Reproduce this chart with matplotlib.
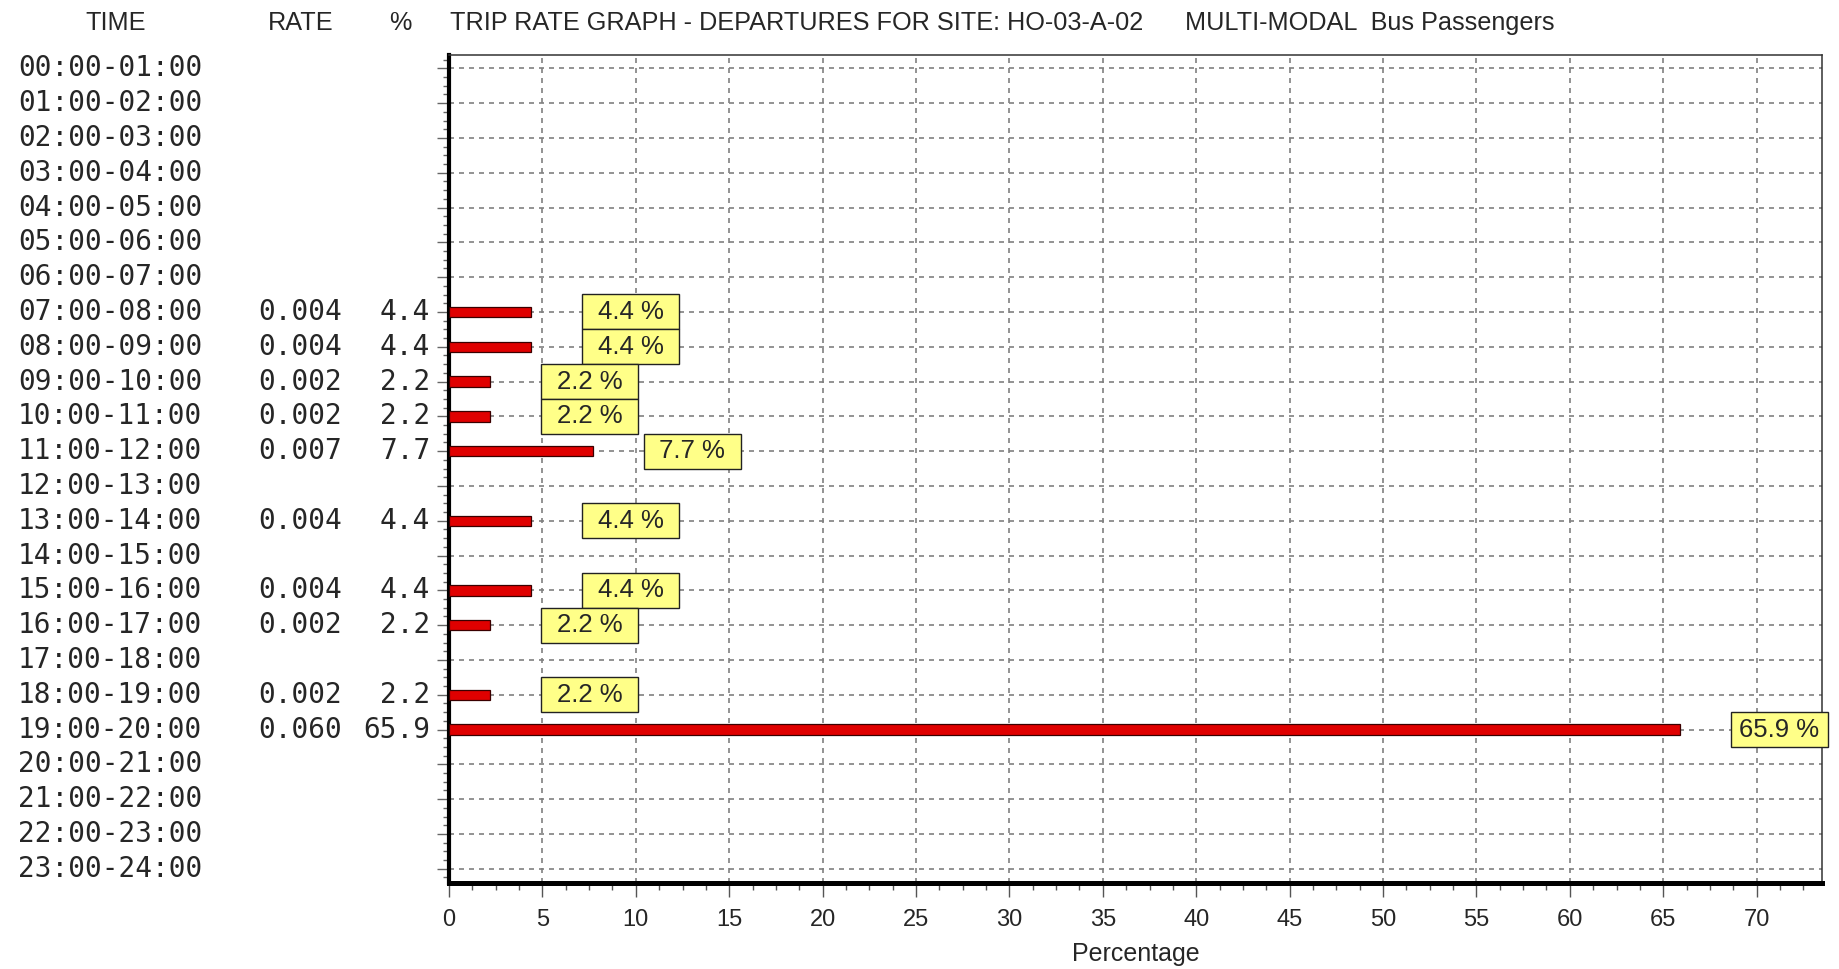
import numpy as np
import matplotlib
matplotlib.use("Agg")
import matplotlib.pyplot as plt
from matplotlib import transforms
from matplotlib.patches import Rectangle
from matplotlib.ticker import MultipleLocator

# Hourly departure bands
time_bands = [f"{h:02d}:00-{h + 1:02d}:00" for h in range(24)]

# Trip rate and percentage per band (NaN where no trips were recorded)
rate = [np.nan] * 7 + [0.004, 0.004, 0.002, 0.002, 0.007, np.nan, 0.004, np.nan,
                       0.004, 0.002, np.nan, 0.002, 0.060] + [np.nan] * 4
percent = [np.nan] * 7 + [4.4, 4.4, 2.2, 2.2, 7.7, np.nan, 4.4, np.nan,
                          4.4, 2.2, np.nan, 2.2, 65.9] + [np.nan] * 4

title_left = "TRIP RATE GRAPH - DEPARTURES FOR SITE: HO-03-A-02"
title_right = "MULTI-MODAL  Bus Passengers"
x_ticks = list(range(0, 75, 5))

W, H = 1839, 969
fig = plt.figure(figsize=(W / 100, H / 100), dpi=100)
fig.patch.set_facecolor("white")

ax_left, ax_right, ax_top, ax_bottom = 449, 1822, 55, 883
ax = fig.add_axes([ax_left / W, (H - ax_bottom) / H,
                   (ax_right - ax_left) / W, (ax_bottom - ax_top) / H])

narrow = ["Liberation Sans Narrow", "Liberation Sans", "DejaVu Sans"]
mono = ["DejaVu Sans Mono"]
txt_col = "#262626"

y = np.arange(len(time_bands))
vals = np.array(percent, dtype=float)
mask = ~np.isnan(vals)

ax.barh(y[mask], vals[mask], height=0.3, color="#e00000",
        edgecolor="#3a0000", linewidth=0.9, zorder=3)

ax.set_xlim(0, 73.5)
ax.set_ylim(23.41, -0.385)

ax.set_xticks(x_ticks)
ax.xaxis.set_minor_locator(MultipleLocator(1.25))
ax.set_yticks(y)
ax.set_yticklabels([])
ax.yaxis.set_minor_locator(MultipleLocator(0.25))

ax.tick_params(axis="x", which="major", length=10, width=1.0, color="#555555",
               pad=9, labelsize=17, labelcolor=txt_col)
ax.tick_params(axis="x", which="minor", length=5, width=1.0, color="#555555")
ax.tick_params(axis="y", which="major", length=9, width=1.0, color="#666666")
ax.tick_params(axis="y", which="minor", length=4, width=1.0, color="#666666")
for lab in ax.get_xticklabels():
    lab.set_family(narrow)

ax.grid(True, which="major", color="#808080", linewidth=1.2,
        linestyle=(0, (3.0, 3.0)))
ax.set_axisbelow(True)

ax.spines["left"].set_linewidth(3.0)
ax.spines["bottom"].set_linewidth(3.6)
ax.spines["left"].set_color("black")
ax.spines["bottom"].set_color("black")
ax.spines["top"].set_linewidth(1.1)
ax.spines["right"].set_linewidth(1.1)
ax.spines["top"].set_color("#333333")
ax.spines["right"].set_color("#333333")

ax.set_xlabel("Percentage", family=narrow, fontsize=18, color=txt_col, labelpad=8)

# Value boxes to the right of each bar (fixed size in pixels)
gap, box_w, box_h = 51, 97, 35
for yi, v in zip(y[mask], vals[mask]):
    anchor = transforms.ScaledTranslation(v, yi, ax.transData)
    ax.add_patch(Rectangle((gap, -box_h / 2), box_w, box_h, transform=anchor,
                           facecolor="#ffff88", edgecolor="#222222",
                           linewidth=1.0, zorder=6, clip_on=False))
    centre = transforms.offset_copy(ax.transData, fig=fig, x=gap + box_w / 2,
                                    y=0, units="dots")
    ax.text(v, yi, f"{v:.1f} %", transform=centre, ha="center", va="center",
            family=narrow, fontsize=18.5, color=txt_col, zorder=7, clip_on=False)

# Row labels in the left-hand table
row_tf = ax.get_yaxis_transform()
span = ax_right - ax_left
for yi, band, r, p in zip(y, time_bands, rate, percent):
    ax.text((18 - ax_left) / span, yi, band, transform=row_tf,
            ha="left", va="center", family=mono, fontsize=20, color=txt_col)
    if not np.isnan(r):
        ax.text((342 - ax_left) / span, yi, f"{r:.3f}",
                transform=row_tf, ha="right", va="center", family=mono,
                fontsize=20, color=txt_col)
        ax.text((430 - ax_left) / span, yi, f"{p:.1f}",
                transform=row_tf, ha="right", va="center", family=mono,
                fontsize=20, color=txt_col)

# Column headers and title line
hy = 1 - 23 / H
hs = 18.2
fig.text(116 / W, hy, "TIME", ha="center", va="center", family=narrow,
         fontsize=hs, color=txt_col)
fig.text(301 / W, hy, "RATE", ha="center", va="center", family=narrow,
         fontsize=hs, color=txt_col)
fig.text(400 / W, hy, "%", ha="center", va="center", family=narrow,
         fontsize=hs, color=txt_col)
fig.text(450 / W, hy, title_left, ha="left", va="center", family=narrow,
         fontsize=hs, color=txt_col)
fig.text(1185 / W, hy, title_right, ha="left", va="center", family=narrow,
         fontsize=hs, color=txt_col)

fig.savefig("out.png", dpi=100, facecolor="white")
